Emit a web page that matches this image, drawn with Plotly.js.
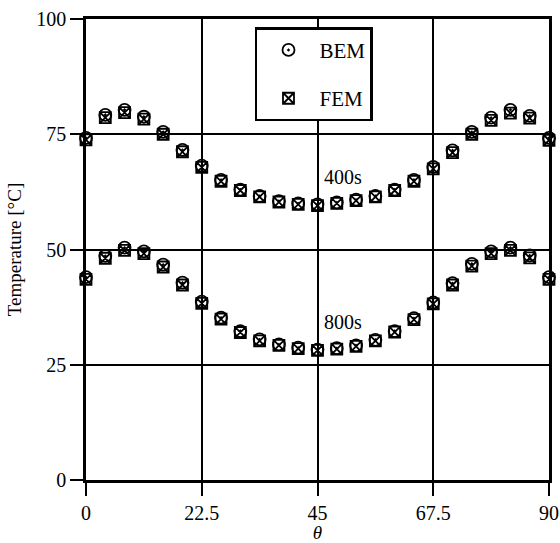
<!DOCTYPE html>
<html>
<head>
<meta charset="utf-8">
<script src="https://cdn.plot.ly/plotly-3.0.1.min.js"></script>
<style>html,body{margin:0;padding:0;background:#fff;}#chart{width:560px;height:543px;}</style>
</head>
<body>
<div id="chart"></div>
<script>
// angle positions (degrees)
var theta = [0, 3.75, 7.5, 11.25, 15, 18.75, 22.5, 26.25, 30, 33.75, 37.5, 41.25, 45,
             48.75, 52.5, 56.25, 60, 63.75, 67.5, 71.25, 75, 78.75, 82.5, 86.25, 90];
// temperatures at t = 400 s
var bem400 = [74.2, 79.2, 80.3, 78.8, 75.5, 71.6, 68.2, 65.1, 63.0, 61.6, 60.5, 60.0, 59.8,
              60.2, 60.8, 61.6, 63.0, 65.1, 67.9, 71.5, 75.5, 78.6, 80.3, 79.0, 74.2];
var fem400 = [73.8, 78.6, 79.7, 78.3, 75.0, 71.2, 67.8, 64.8, 62.8, 61.4, 60.3, 59.8, 59.5,
              60.0, 60.6, 61.4, 62.8, 64.8, 67.5, 71.0, 75.0, 78.0, 79.6, 78.5, 73.7];
// temperatures at t = 800 s
var bem800 = [44.0, 48.6, 50.4, 49.6, 46.7, 42.8, 38.7, 35.2, 32.3, 30.5, 29.4, 28.7, 28.3,
              28.6, 29.2, 30.4, 32.3, 35.1, 38.5, 42.7, 46.9, 49.6, 50.4, 48.7, 44.0];
var fem800 = [43.5, 48.1, 49.8, 49.1, 46.2, 42.3, 38.3, 34.9, 32.0, 30.2, 29.2, 28.5, 28.1,
              28.4, 29.0, 30.2, 32.1, 34.8, 38.2, 42.3, 46.4, 49.1, 49.8, 48.2, 43.5];
var xTicks = [0, 22.5, 45, 67.5, 90];
var xMinorTicks = [11.25, 33.75, 56.25, 78.75];
var yTicks = [0, 25, 50, 75, 100];
var yMinorTicks = [12.5, 37.5, 62.5, 87.5];
var curveLabels = ['400s', '800s'];
var labelX = [45.9, 45.9];
var labelY = [65.8, 34.3];

var FONT = 'Liberation Serif, Times New Roman, serif';
var W = 560, H = 543, M = {l: 86, r: 11, t: 19, b: 63};
var X_RANGE = [0, 90], Y_RANGE = [0, 100];
var MAJOR_LEN = 13, MINOR_LEN = 6;
// pixel -> data conversion for tick-mark lengths
var pxX = (X_RANGE[1] - X_RANGE[0]) / (W - M.l - M.r);
var pxY = (Y_RANGE[1] - Y_RANGE[0]) / (H - M.t - M.b);

var bemMarker = {symbol: 'circle-open-dot', size: 12, color: 'black', line: {color: 'black', width: 1.8}};
var femMarker = {symbol: 'square-x-open', size: 11, color: 'black', line: {color: 'black', width: 1.8}};

function fill(n, v) { var a = []; for (var i = 0; i < n; i++) a.push(v); return a; }
// tick marks as unclipped line-symbol markers (outside the axes)
function xTickTrace(vals, len, w) {
  return {x: vals, y: fill(vals.length, Y_RANGE[0] - len * pxY / 2), mode: 'markers', showlegend: false,
          hoverinfo: 'skip', cliponaxis: false,
          marker: {symbol: 'line-ns-open', size: len, color: 'black', line: {color: 'black', width: w}}};
}
function yTickTrace(vals, len, w) {
  return {x: fill(vals.length, X_RANGE[0] - len * pxX / 2), y: vals, mode: 'markers', showlegend: false,
          hoverinfo: 'skip', cliponaxis: false,
          marker: {symbol: 'line-ew-open', size: len, color: 'black', line: {color: 'black', width: w}}};
}

var traces = [
  {x: theta, y: bem400, mode: 'markers', name: 'BEM', legendgroup: 'bem', marker: bemMarker, cliponaxis: false},
  {x: theta, y: bem800, mode: 'markers', name: 'BEM', legendgroup: 'bem', showlegend: false, marker: bemMarker, cliponaxis: false},
  {x: theta, y: fem400, mode: 'markers', name: 'FEM', legendgroup: 'fem', marker: femMarker, cliponaxis: false},
  {x: theta, y: fem800, mode: 'markers', name: 'FEM', legendgroup: 'fem', showlegend: false, marker: femMarker, cliponaxis: false},
  xTickTrace(xTicks, MAJOR_LEN, 2),
  xTickTrace(xMinorTicks, MINOR_LEN, 1.5),
  yTickTrace(yTicks, MAJOR_LEN, 2),
  yTickTrace(yMinorTicks, MINOR_LEN, 1.5)
];

var annotations = curveLabels.map(function (t, i) {
  return {x: labelX[i], y: labelY[i], xref: 'x', yref: 'y', text: t, showarrow: false,
          xanchor: 'left', yanchor: 'middle', font: {family: FONT, size: 20, color: 'black'}};
});

var layout = {
  width: W, height: H,
  margin: M,
  paper_bgcolor: 'white', plot_bgcolor: 'white',
  font: {family: FONT, size: 19, color: '#000000'},
  showlegend: true,
  legend: {
    x: 0.365, y: 0.982, xanchor: 'left', yanchor: 'top',
    bgcolor: 'white', bordercolor: 'black', borderwidth: 2.5,
    font: {family: FONT, size: 21, color: 'black'},
    itemwidth: 52, traceorder: 'grouped', tracegroupgap: 18,
    entrywidth: 76
  },
  xaxis: {
    range: X_RANGE, tickmode: 'array', tickvals: xTicks,
    ticks: 'outside', ticklen: MAJOR_LEN, tickwidth: 2, tickcolor: 'black',
    showline: true, mirror: true, linewidth: 2.5, linecolor: 'black',
    showgrid: true, gridcolor: 'black', gridwidth: 2, zeroline: false,
    tickfont: {family: FONT, size: 20, color: 'black'},
    title: {text: '<i>θ</i>', font: {family: FONT, size: 19, color: 'black'}, standoff: 4}
  },
  yaxis: {
    range: Y_RANGE, tickmode: 'array', tickvals: yTicks,
    ticks: 'outside', ticklen: MAJOR_LEN, tickwidth: 2, tickcolor: 'black',
    showline: true, mirror: true, linewidth: 2.5, linecolor: 'black',
    showgrid: true, gridcolor: 'black', gridwidth: 2, zeroline: false,
    tickfont: {family: FONT, size: 20, color: 'black'},
    title: {text: 'Temperature [°C]', font: {family: FONT, size: 19, color: 'black'}, standoff: 10}
  },
  annotations: annotations
};

Plotly.newPlot('chart', traces, layout, {displayModeBar: false});
</script>
</body>
</html>
